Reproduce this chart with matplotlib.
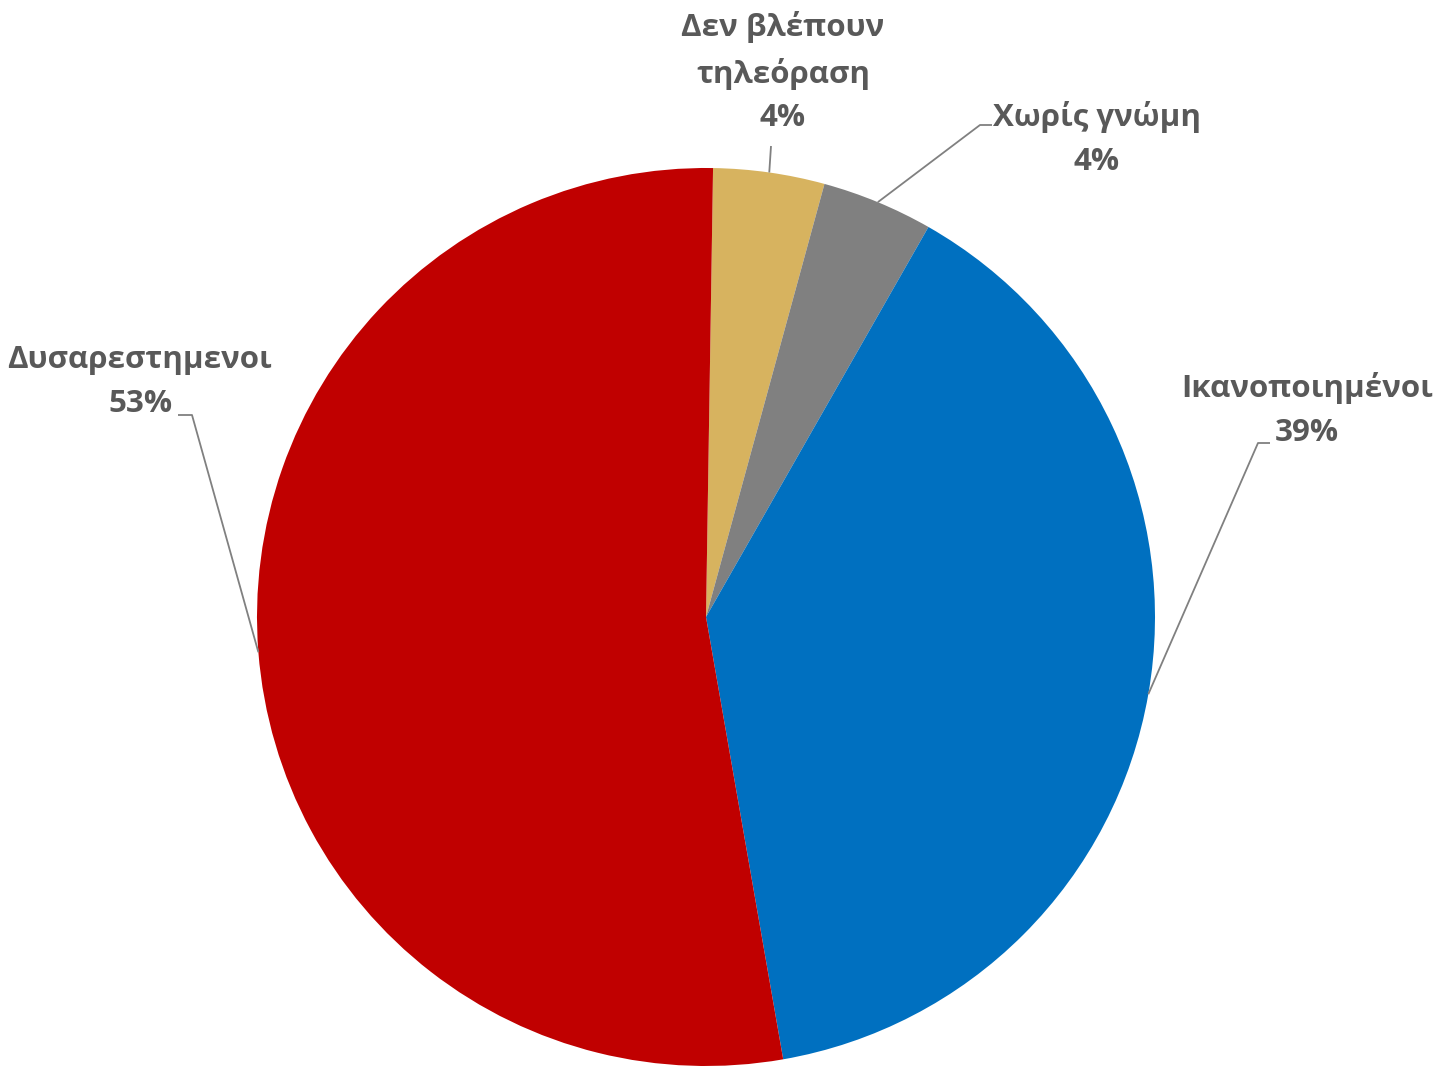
import numpy as np
import matplotlib
matplotlib.use("Agg")
import matplotlib.pyplot as plt

categories = ["Δεν βλέπουν\nτηλεόραση", "Χωρίς γνώμη", "Ικανοποιημένοι", "Δυσαρεστημενοι"]
values = [4, 4, 39, 53]
colors = ["#D7B35F", "#808080", "#0070C0", "#C00000"]

W, H = 1449, 1066
fig = plt.figure(figsize=(W / 100, H / 100), dpi=100)
ax = fig.add_axes([0, 0, 1, 1])

cx, cy, R = 706, H - 617, 449
wedges, _ = ax.pie(values, colors=colors, startangle=89.1, counterclock=False,
                   center=(cx, cy), radius=R, wedgeprops=dict(linewidth=0))
ax.set_xlim(0, W)
ax.set_ylim(0, H)
ax.set_aspect("equal")
ax.axis("off")

# label layout: (text center x, text center y [ref px], leader path after edge point [ref px])
layout = [
    (783, 72, [(771, 146)]),
    (1097, 139, [(980, 125), (992, 125)]),
    (1307, 410, [(1258, 443), (1270, 443)]),
    (140, 382, [(192, 415), (178, 415)]),
]

txtcol = "#595959"
for w, cat, v, (tx, ty, path) in zip(wedges, categories, values, layout):
    mid = np.deg2rad((w.theta1 + w.theta2) / 2)
    ex, ey = cx + R * np.cos(mid), cy + R * np.sin(mid)
    xs = [ex] + [p[0] for p in path]
    ys = [ey] + [H - p[1] for p in path]
    ax.plot(xs, ys, color="#808080", lw=1.3, solid_capstyle="butt", zorder=1)
    ax.text(tx, H - ty, f"{cat}\n{v}%", ha="center", va="center",
            fontsize=22.5, fontweight="bold", color=txtcol,
            family=["Open Sans", "DejaVu Sans"], linespacing=1.6)

fig.savefig("out.png", dpi=100)
